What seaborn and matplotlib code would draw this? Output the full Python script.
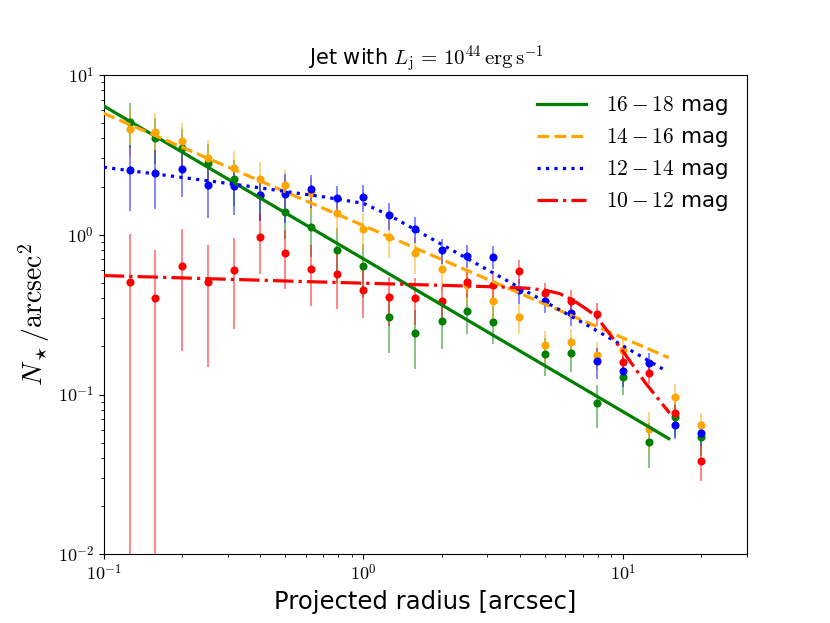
import numpy as np
import pandas as pd
import matplotlib
matplotlib.use("Agg")
import matplotlib.pyplot as plt
from matplotlib.ticker import FuncFormatter
import seaborn as sns

# projected radius of each bin [arcsec]
radius = [0.126, 0.158, 0.200, 0.251, 0.316, 0.398, 0.501, 0.631, 0.794, 1.00, 1.26, 1.58,
          2.00, 2.51, 3.16, 3.98, 5.01, 6.31, 7.94, 10.0, 12.6, 15.8, 20.0]

# surface densities and errors per magnitude bin
dens_16_18 = [5.09, 4.05, 3.48, 2.80, 2.22, 1.77, 1.39, 1.11, 0.80, 0.64, 0.305, 0.242,
              0.288, 0.331, 0.283, np.nan, 0.179, 0.182, 0.0885, 0.128, 0.0507, 0.0724, 0.0542]
err_16_18 = [1.6, 1.3, 1.1, 0.9, 0.7, 0.55, 0.45, 0.38, 0.3, 0.24, 0.124, 0.098,
             0.096, 0.092, 0.076, np.nan, 0.048, 0.043, 0.027, 0.029, 0.016, 0.018, 0.013]
dens_14_16 = [4.56, 4.40, 3.84, 3.03, 2.62, 2.24, 2.03, 1.82, 1.36, 1.08, 0.965, 0.766,
              0.608, 0.483, 0.384, 0.305, 0.204, 0.213, 0.177, 0.191, 0.0611, 0.0969, 0.0641]
err_14_16 = [1.47, 1.34, 1.14, 0.88, 0.72, 0.61, 0.51, 0.45, 0.36, 0.28, 0.25, 0.2,
             0.16, 0.12, 0.09, 0.065, 0.047, 0.045, 0.035, 0.035, 0.017, 0.02, 0.013]
dens_12_14 = [2.53, 2.42, 2.57, 2.03, 2.02, 1.76, 1.79, 1.92, 1.69, 1.71, 1.32, 1.09,
              0.80, 0.737, 0.727, 0.45, 0.382, 0.325, 0.161, 0.141, 0.157, 0.0645, 0.0575]
err_12_14 = [1.13, 0.98, 0.85, 0.75, 0.7, 0.55, 0.6, 0.45, 0.33, 0.33, 0.25, 0.2,
             0.14, 0.12, 0.12, 0.08, 0.06, 0.055, 0.035, 0.03, 0.025, 0.012, 0.01]
dens_10_12 = [0.505, 0.403, 0.638, 0.505, 0.605, 0.96, 0.765, 0.608, 0.564, 0.45, 0.407, 0.403,
              0.384, 0.509, 0.486, 0.594, 0.433, 0.384, 0.32, 0.16, 0.137, 0.0766, 0.0384]
err_10_12 = [0.5, 0.40, 0.45, 0.357, 0.347, 0.39, 0.31, 0.25, 0.22, 0.15, 0.14, 0.13,
             0.085, 0.1, 0.11, 0.1, 0.068, 0.065, 0.053, 0.025, 0.02, 0.01, 0.0097]

# model curves
fit_16_18_r = [0.1, 15.0]
fit_16_18 = [6.38, 0.053]
fit_14_16_r = [0.1, 15.0]
fit_14_16 = [5.74, 0.17]
fit_12_14_r = [0.1, 0.316, 0.708, 1.0, 1.26, 2.0, 3.98, 7.41, 14.6]
fit_12_14 = [2.64, 2.07, 1.72, 1.57, 1.32, 0.87, 0.468, 0.267, 0.141]
fit_10_12_r = [0.1, 0.57, 3.5, 4.3, 5.0, 5.69, 6.4, 7.21, 7.87, 10.0, 12.2, 15.1]
fit_10_12 = [0.555, 0.51, 0.47, 0.462, 0.45, 0.428, 0.39, 0.343, 0.309, 0.186, 0.118, 0.0766]

labels = [r"$16-18$ mag", r"$14-16$ mag", r"$12-14$ mag", r"$10-12$ mag"]
colors = ["green", "orange", "blue", "red"]
styles = ["-", "--", ":", "-."]

plt.rcParams["mathtext.fontset"] = "cm"
plt.rcParams["font.family"] = ["DejaVu Sans"]

fig, ax = plt.subplots(figsize=(8.3, 6.23), dpi=100)
ax.set_xscale("log")
ax.set_yscale("log")

series = [(dens_16_18, err_16_18, fit_16_18_r, fit_16_18),
          (dens_14_16, err_14_16, fit_14_16_r, fit_14_16),
          (dens_12_14, err_12_14, fit_12_14_r, fit_12_14),
          (dens_10_12, err_10_12, fit_10_12_r, fit_10_12)]

for (dens, err, fr, fv), lab, col, ls in zip(series, labels, colors, styles):
    ax.errorbar(radius, dens, yerr=err, fmt="none", ecolor=col, elinewidth=1.1, alpha=0.6)
    sns.scatterplot(x=radius, y=dens, color=col, s=34, linewidth=0, ax=ax, zorder=3)
    df = pd.DataFrame({"r": fr, "n": fv})
    sns.lineplot(data=df, x="r", y="n", color=col, linestyle=ls, linewidth=2.3,
                 estimator=None, sort=False, label=lab, ax=ax, zorder=4)

ax.set_xlim(0.1, 30)
ax.set_ylim(0.01, 10)

fmt = FuncFormatter(lambda v, p: r"$10^{%d}$" % int(round(np.log10(v))))
ax.xaxis.set_major_formatter(fmt)
ax.yaxis.set_major_formatter(fmt)
ax.tick_params(labelsize=13)

ax.set_title(r"Jet with $L_\mathrm{j}\,=\,10^{44}\,\mathrm{erg\,s^{-1}}$", fontsize=15)
ax.set_xlabel("Projected radius [arcsec]", fontsize=17.5)
ax.set_ylabel(r"$N_\star/\mathrm{arcsec}^2$", fontsize=20)

leg = ax.legend(loc="upper right", frameon=False, fontsize=15.5, handlelength=2.3,
                handletextpad=0.9, labelspacing=0.42)

fig.savefig("out.png", dpi=100)
